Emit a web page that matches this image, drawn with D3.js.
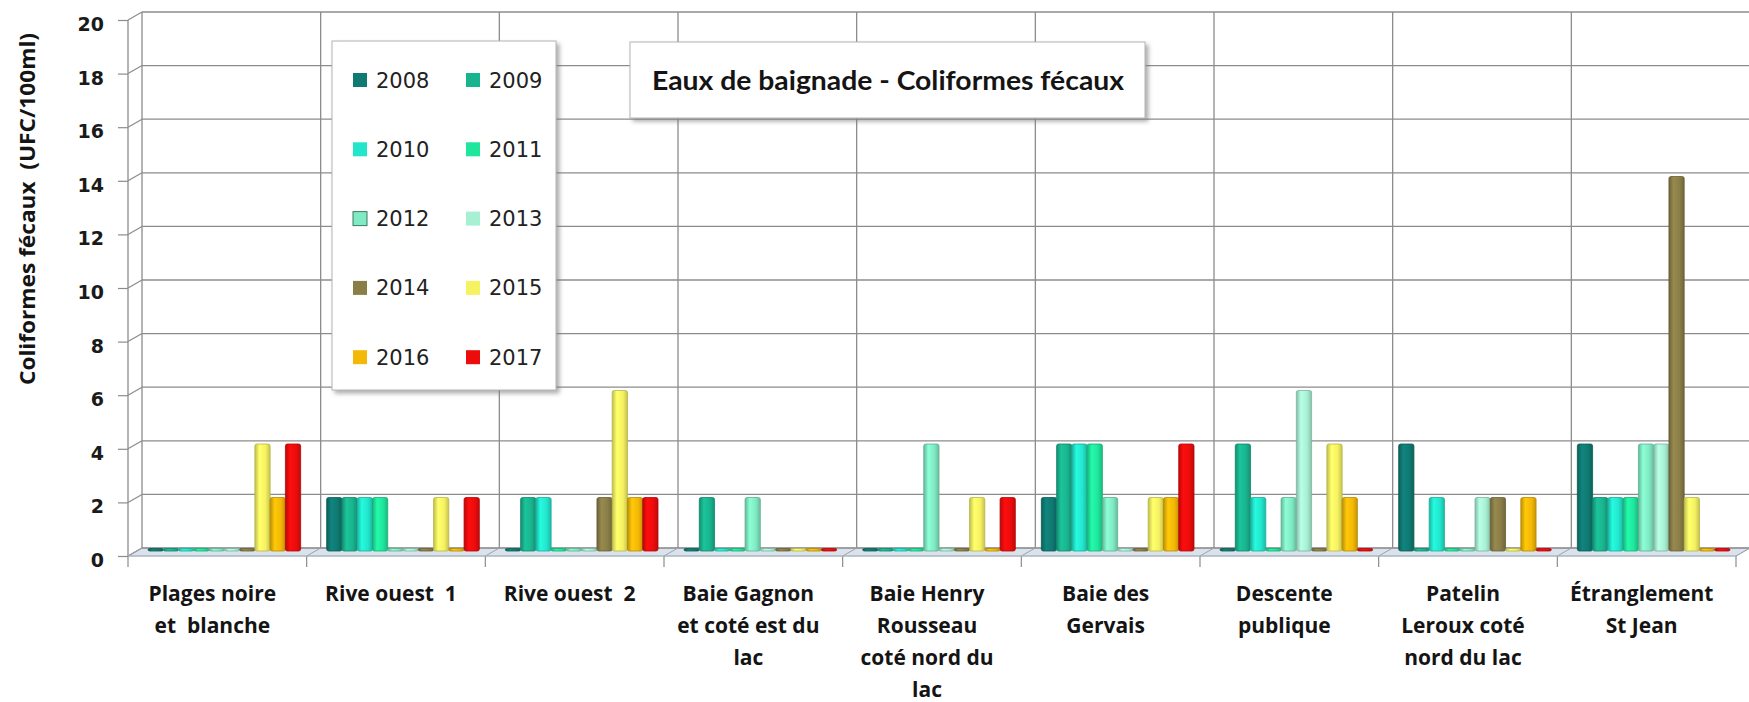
<!DOCTYPE html>
<html lang="fr">
<head>
<meta charset="UTF-8">
<title>Eaux de baignade - Coliformes fécaux</title>
<style>
  body { margin: 0; background: #fff; }
  svg text { white-space: pre; }
</style>
</head>
<body>
<svg id="chart" width="1749" height="702"></svg>
<script src="https://d3js.org/d3.v7.min.js"></script>
<script>
// sites (line breaks as in the picture)
const categories = [
  "Plages noire\net  blanche",
  "Rive ouest  1",
  "Rive ouest  2",
  "Baie Gagnon\net coté est du\nlac",
  "Baie Henry\nRousseau\ncoté nord du\nlac",
  "Baie des\nGervais",
  "Descente\npublique",
  "Patelin\nLeroux coté\nnord du lac",
  "Étranglement\nSt Jean"
];
const years = ["2008", "2009", "2010", "2011", "2012", "2013", "2014", "2015", "2016", "2017"];

// UFC/100ml per site, one array per year
const v2008 = [0, 2, 0, 0, 0, 2, 0, 4, 4];
const v2009 = [0, 2, 2, 2, 0, 4, 4, 0, 2];
const v2010 = [0, 2, 2, 0, 0, 4, 2, 2, 2];
const v2011 = [0, 2, 0, 0, 0, 4, 0, 0, 2];
const v2012 = [0, 0, 0, 2, 4, 2, 2, 0, 4];
const v2013 = [0, 0, 0, 0, 0, 0, 6, 2, 4];
const v2014 = [0, 0, 2, 0, 0, 0, 0, 2, 14];
const v2015 = [4, 2, 6, 0, 2, 2, 4, 0, 2];
const v2016 = [2, 0, 2, 0, 0, 2, 2, 2, 0];
const v2017 = [4, 2, 2, 0, 2, 4, 0, 0, 0];

const yTicks = [0, 2, 4, 6, 8, 10, 12, 14, 16, 18, 20];
const colors = ["#0f7a72", "#19b48e", "#22e6cc", "#1fe69c", "#80eac4", "#a8f0d4", "#8a7e48", "#f6f262", "#f4b806", "#ec0c0c"];

const series = [v2008, v2009, v2010, v2011, v2012, v2013, v2014, v2015, v2016, v2017];

const svg = d3.select("#chart");
const defs = svg.append("defs");

// 3D depth offset between the front plane and the back wall
const dx = 14, dy = -8;
const left = 128, right = 1736;

const yFront = d3.scaleLinear().domain([0, 20]).range([556, 20]);
const yBack = d3.scaleLinear().domain([0, 20]).range([556 + dy, 20 + dy]);
const yBar = d3.scaleLinear().domain([0, 20]).range([551, 16]);

const xFront = d3.scaleBand().domain(categories).range([left, right]);
const xBack = d3.scaleBand().domain(categories).range([left + dx, right + dx]);
const xBar = d3.scaleBand().domain(categories).range([left + dx / 2, right + dx / 2]);
const xYear = d3.scaleBand().domain(years).range([13, xBar.bandwidth() - 13]);

const color = d3.scaleOrdinal().domain(years).range(colors);

// shadow for title and legend boxes
defs.append("filter").attr("id", "shadow")
  .attr("x", "-5%").attr("y", "-5%").attr("width", "115%").attr("height", "115%")
  .append("feDropShadow")
  .attr("dx", 3).attr("dy", 3).attr("stdDeviation", 2)
  .attr("flood-color", "#777").attr("flood-opacity", 0.6);

// cylinder-like shading per year
years.forEach((y, i) => {
  const c = d3.color(color(y));
  const g = defs.append("linearGradient").attr("id", "bar" + i)
    .attr("x1", "0%").attr("x2", "100%").attr("y1", "0%").attr("y2", "0%");
  g.append("stop").attr("offset", "0%").attr("stop-color", c.darker(0.7));
  g.append("stop").attr("offset", "30%").attr("stop-color", c.brighter(0.25));
  g.append("stop").attr("offset", "70%").attr("stop-color", c);
  g.append("stop").attr("offset", "100%").attr("stop-color", c.darker(0.6));
});

const gridColor = "#8c8c8c";
const backTop = yBack(20), backBottom = yBack(0);

// floor
svg.append("polygon")
  .attr("points", [
    [left, yFront(0)], [left + dx, yBack(0)], [right + dx, yBack(0)], [right, yFront(0)]
  ].join(" "))
  .attr("fill", "#dae3ec").attr("stroke", "#b0bcc8").attr("stroke-width", 1);

// back wall horizontal grid
svg.append("g").selectAll("line").data(yTicks).join("line")
  .attr("x1", left + dx).attr("x2", right + dx)
  .attr("y1", d => yBack(d)).attr("y2", d => yBack(d))
  .attr("stroke", gridColor).attr("stroke-width", 1.3);

// back wall vertical grid at category boundaries
const bounds = categories.map(c => xBack(c)).concat([right + dx]);
svg.append("g").selectAll("line").data(bounds).join("line")
  .attr("x1", d => d).attr("x2", d => d)
  .attr("y1", backTop).attr("y2", backBottom)
  .attr("stroke", gridColor).attr("stroke-width", 1.3);

// left side wall
svg.append("line").attr("x1", left).attr("x2", left)
  .attr("y1", yFront(20)).attr("y2", yFront(0))
  .attr("stroke", gridColor).attr("stroke-width", 1.3);
svg.append("g").selectAll("line").data(yTicks).join("line")
  .attr("x1", left).attr("y1", d => yFront(d))
  .attr("x2", left + dx).attr("y2", d => yBack(d))
  .attr("stroke", gridColor).attr("stroke-width", 1.2);

// floor lines at category boundaries and front ticks
const frontBounds = categories.map(c => xFront(c)).concat([right]);
svg.append("g").selectAll("line").data(frontBounds).join("line")
  .attr("x1", d => d).attr("y1", yFront(0))
  .attr("x2", d => d + dx).attr("y2", yBack(0))
  .attr("stroke", "#9aa4ae").attr("stroke-width", 1);
svg.append("g").selectAll("line").data(frontBounds).join("line")
  .attr("x1", d => d).attr("x2", d => d)
  .attr("y1", yFront(0)).attr("y2", yFront(0) + 11)
  .attr("stroke", gridColor).attr("stroke-width", 1.2);
svg.append("line").attr("x1", left).attr("x2", right)
  .attr("y1", yFront(0)).attr("y2", yFront(0))
  .attr("stroke", "#a8b2bc").attr("stroke-width", 1);

// y axis
const yAxis = d3.axisLeft(yFront).tickValues(yTicks).tickSize(10).tickPadding(14);
const ax = svg.append("g").attr("transform", `translate(${left},0)`).call(yAxis);
ax.select(".domain").remove();
ax.selectAll(".tick line").attr("stroke", gridColor).attr("stroke-width", 1.2);
ax.selectAll(".tick text")
  .attr("font-family", "DejaVu Sans").attr("font-weight", "bold")
  .attr("font-size", 19).attr("fill", "#1a1a1a").attr("dy", "0.55em");

svg.append("text")
  .attr("transform", "translate(35,209) rotate(-90)")
  .attr("text-anchor", "middle")
  .attr("font-family", "Open Sans").attr("font-weight", "bold")
  .attr("font-size", 21).attr("fill", "#141414")
  .attr("textLength", 352).attr("lengthAdjust", "spacingAndGlyphs")
  .text("Coliformes fécaux  (UFC/100ml)");

// bars
const barData = [];
years.forEach((y, i) => {
  categories.forEach((c, j) => barData.push({ year: y, i, cat: c, value: series[i][j] }));
});
svg.append("g").selectAll("rect").data(barData).join("rect")
  .attr("x", d => xBar(d.cat) + xYear(d.year))
  .attr("width", xYear.bandwidth())
  .attr("y", d => Math.min(yBar(d.value), yBar(0) - 2.5))
  .attr("height", d => Math.max(yBar(0) - yBar(d.value), 2.5))
  .attr("rx", 2)
  .attr("fill", d => `url(#bar${d.i})`)
  .attr("stroke", d => d3.color(color(d.year)).darker(0.8))
  .attr("stroke-width", 0.8);

// category labels
const lab = svg.append("g").selectAll("text").data(categories).join("text")
  .attr("x", d => xFront(d) + xFront.bandwidth() / 2 - 5)
  .attr("y", 601)
  .attr("text-anchor", "middle")
  .attr("font-family", "Open Sans").attr("font-weight", "bold")
  .attr("font-size", 21).attr("fill", "#141414");
lab.each(function(d) {
  const t = d3.select(this);
  d.split("\n").forEach((line, k) => {
    t.append("tspan").attr("x", t.attr("x")).attr("dy", k === 0 ? 0 : 32).text(line);
  });
});

// title box
svg.append("rect").attr("x", 630).attr("y", 42).attr("width", 515).attr("height", 76)
  .attr("fill", "#fff").attr("stroke", "#b4b4b4").attr("filter", "url(#shadow)");
svg.append("text").attr("x", 888).attr("y", 90)
  .attr("text-anchor", "middle")
  .attr("font-family", "Lato").attr("font-weight", "bold")
  .attr("font-size", 26).attr("fill", "#141414")
  .attr("textLength", 472).attr("lengthAdjust", "spacingAndGlyphs")
  .text("Eaux de baignade - Coliformes fécaux");

// legend
svg.append("rect").attr("x", 332).attr("y", 41).attr("width", 224).attr("height", 349)
  .attr("fill", "#fff").attr("stroke", "#b4b4b4").attr("filter", "url(#shadow)");
const legend = svg.append("g").selectAll("g").data(years).join("g")
  .attr("transform", (d, i) => `translate(${353 + (i % 2) * 113},${80 + Math.floor(i / 2) * 69.3})`);
legend.append("rect").attr("x", 0).attr("y", -7).attr("width", 14).attr("height", 14)
  .attr("fill", d => color(d))
  .attr("stroke", d => d === "2012" ? "#3d7a64" : "none").attr("stroke-width", 1);
legend.append("text").attr("x", 23).attr("y", 0).attr("dy", "0.36em")
  .attr("font-family", "DejaVu Sans").attr("font-size", 21).attr("fill", "#222")
  .text(d => d);
</script>
</body>
</html>
